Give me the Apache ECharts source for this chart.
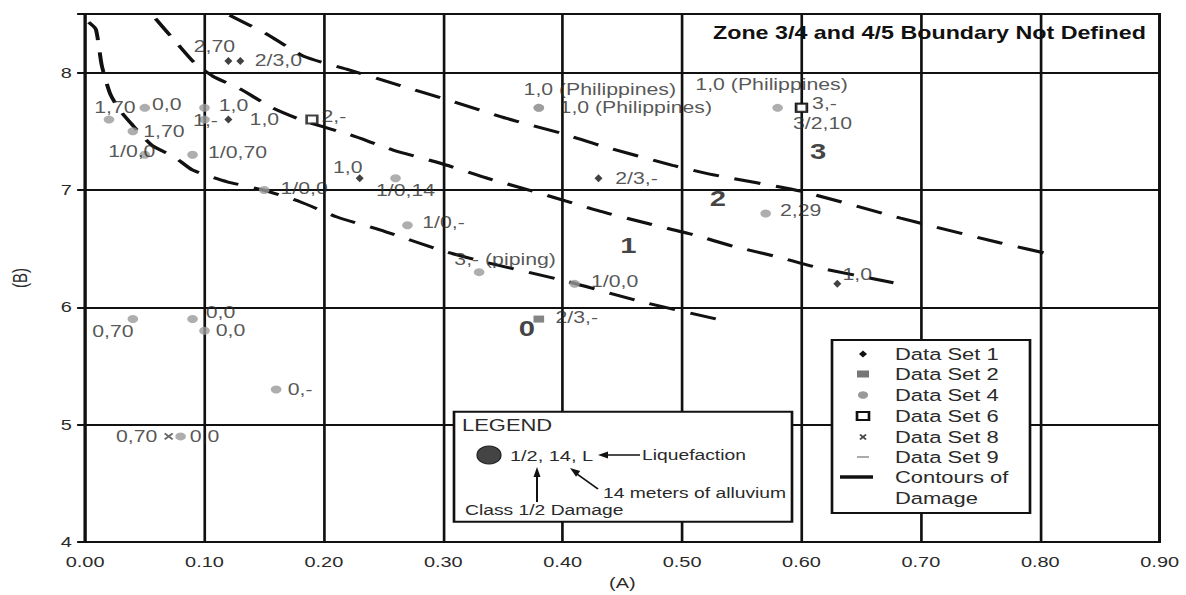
<!DOCTYPE html>
<html>
<head>
<meta charset="utf-8">
<script src="https://cdn.jsdelivr.net/npm/echarts@6/dist/echarts.min.js"></script>
<style>
  html, body { margin: 0; padding: 0; background: #fff; overflow: hidden; }
  #wrap { width: 1186px; height: 595px; overflow: hidden; }
  /* the figure is drawn narrow and stretched sideways */
  #chart { width: 892px; height: 595px; transform: scaleX(1.32960); transform-origin: 0 0; }
</style>
</head>
<body>
<div id="wrap"><div id="chart"></div></div>
<script>
// ---------------- data ----------------
const xTicks = [0, 0.1, 0.2, 0.3, 0.4, 0.5, 0.6, 0.7, 0.8, 0.9];
const yTicks = [4, 5, 6, 7, 8];

// Data Set 1
const set1X = [0.12, 0.13, 0.12, 0.23, 0.43, 0.63];
const set1Y = [8.1, 8.1, 7.6, 7.1, 7.1, 6.2];
const set1Text = ['2,70', '2/3,0', '1,0', '1,0', '2/3,-', '1,0'];

// Data Set 2
const set2X = [0.38];
const set2Y = [5.9];
const set2Text = ['2/3,-'];

// Data Set 4
const set4X = [0.02, 0.05, 0.04, 0.05, 0.10, 0.10, 0.09, 0.15, 0.26, 0.27, 0.33, 0.41,
               0.38, 0.38, 0.58, 0.57, 0.04, 0.09, 0.10, 0.16, 0.08];
const set4Y = [7.6, 7.7, 7.5, 7.3, 7.7, 7.6, 7.3, 7.0, 7.1, 6.7, 6.3, 6.2,
               7.7, 7.7, 7.7, 6.8, 5.9, 5.9, 5.8, 5.3, 4.9];
const set4Text = ['1,70', '0,0', '1,70', '1/0,0', '1,0', '1,-', '1/0,70', '1/0,0', '1/0,14', '1/0,-',
                  '3,- (piping)', '1/0,0', '1,0 (Philippines)', '1,0 (Philippines)', '1,0 (Philippines)',
                  '2,29', '0,70', '0,0', '0,0', '0,-', '0,0'];

// Data Set 6
const set6X = [0.19, 0.60, 0.60];
const set6Y = [7.6, 7.7, 7.7];
const set6Text = ['2,-', '3,-', '3/2,10'];

// Data Set 8
const set8X = [0.07];
const set8Y = [4.9];
const set8Text = ['0,70'];

// Contours of damage (zone boundaries)
const contour01X = [0.003, 0.009, 0.014, 0.021, 0.029, 0.040, 0.056, 0.075, 0.090, 0.119, 0.149,
                    0.180, 0.211, 0.247, 0.300, 0.333, 0.404, 0.465, 0.529];
const contour01Y = [8.43, 8.37, 8.06, 7.82, 7.68, 7.55, 7.38, 7.28, 7.17, 7.07, 7.00,
                    6.90, 6.77, 6.66, 6.48, 6.39, 6.22, 6.05, 5.90];
const contour12X = [0.059, 0.077, 0.092, 0.107, 0.130, 0.157, 0.183, 0.222, 0.258, 0.297, 0.337,
                    0.375, 0.431, 0.473, 0.509, 0.543, 0.580, 0.613, 0.677];
const contour12Y = [8.46, 8.25, 8.08, 7.97, 7.86, 7.70, 7.59, 7.47, 7.34, 7.23, 7.10,
                    6.99, 6.82, 6.71, 6.62, 6.52, 6.43, 6.34, 6.21];
const contour23X = [0.121, 0.152, 0.183, 0.219, 0.264, 0.306, 0.353, 0.400, 0.431, 0.492, 0.526,
                    0.599, 0.683, 0.766, 0.814];
const contour23Y = [8.49, 8.33, 8.14, 8.03, 7.89, 7.76, 7.61, 7.48, 7.38, 7.21, 7.13,
                    6.99, 6.76, 6.55, 6.44];

// Zone numbers
const zoneX = [0.37, 0.455, 0.53, 0.614];
const zoneY = [5.82, 6.53, 6.93, 7.33];
const zoneText = ['0', '1', '2', '3'];

// ---------------- drawing ----------------
const SX = 1186 / 892;            // sideways stretch of the canvas
const px = v => v / SX;           // screen x -> drawing x
const FONT = '"Liberation Sans", Arial, sans-serif';

// label placement relative to each mark (screen px)
const place1 = [[-14, -14], [38, 0], [36, 0], [-12, -11], [38, 0], [20, -9]];
const place2 = [[38, -2]];
const place4 = [[6, -12], [22, -3], [31, 0], [-13, -3], [29, -2], [1, 1], [45, -2], [40, -2],
                [10, 12], [36, -3], [26, -13], [40, -2], [61, -18], [97, 0], [-6, -23], [35, -3],
                [-20, 12], [28, -7], [26, 0], [24, 0], [24, 0]];
const place6 = [[22, -3], [23, -4], [21, 16]];
const place8 = [[-32, 0]];

function marks(xs, ys, texts, place) {
  return xs.map((x, i) => ({
    value: [x, ys[i]],
    label: { formatter: texts[i], offset: [px(place[i][0]), place[i][1]] }
  }));
}
function curve(xs, ys) { return xs.map((x, i) => [x, ys[i]]); }

const pointLabel = { show: true, position: 'inside', color: '#2a2a2a', fontSize: 16, fontFamily: FONT };
const contourStyle = { color: '#111', width: 3, type: [20, 12], cap: 'butt' };

function contourSeries(name, xs, ys) {
  return { name, type: 'line', data: curve(xs, ys), showSymbol: false, symbol: 'none',
           smooth: 0.2, lineStyle: contourStyle, z: 2, silent: true };
}

const G = [];   // legend boxes and annotations
const Z = 100;
function text(x, y, t, size, weight, color) {
  G.push({ type: 'text', x: px(x), y, z: Z,
           style: { text: t, font: (weight || 'normal') + ' ' + size + 'px ' + FONT,
                    fill: color || '#2a2a2a', align: 'left', verticalAlign: 'middle' } });
}
function line(x1, y1, x2, y2, w, color) {
  G.push({ type: 'line', z: Z, shape: { x1: px(x1), y1, x2: px(x2), y2 },
           style: { stroke: color || '#111', lineWidth: w } });
}
function poly(points, color) {
  G.push({ type: 'polygon', z: Z, shape: { points: points.map(p => [px(p[0]), p[1]]) },
           style: { fill: color || '#111' } });
}
function box(x, y, w, h) {
  G.push({ type: 'rect', z: Z, shape: { x: px(x), y, width: px(w), height: h },
           style: { fill: '#fff', stroke: '#111', lineWidth: 2 } });
}

// header note
text(713, 33, 'Zone 3/4 and 4/5 Boundary Not Defined', 17.5, 'bold', '#111');

// key to the data sets
box(832, 340, 198, 173);
poly([[859, 354], [863, 350.5], [867, 354], [863, 357.5]], '#111');
G.push({ type: 'rect', z: Z, shape: { x: px(857), y: 370.5, width: px(12), height: 7 }, style: { fill: '#777' } });
G.push({ type: 'circle', z: Z, shape: { cx: px(863), cy: 395, r: 3.8 }, style: { fill: '#999' } });
G.push({ type: 'rect', z: Z, shape: { x: px(857), y: 412, width: px(12), height: 8 },
         style: { fill: '#fff', stroke: '#111', lineWidth: 2 } });
line(860, 434.5, 866, 439.5, 1.5, '#444');
line(860, 439.5, 866, 434.5, 1.5, '#444');
line(857, 457, 869, 457, 1, '#555');
line(840, 477, 873, 477, 3.5, '#111');
text(895, 354, 'Data Set 1', 16.5);
text(895, 374, 'Data Set 2', 16.5);
text(895, 395, 'Data Set 4', 16.5);
text(895, 416, 'Data Set 6', 16.5);
text(895, 437, 'Data Set 8', 16.5);
text(895, 457, 'Data Set 9', 16.5);
text(895, 477, 'Contours of', 16.5);
text(895, 498, 'Damage', 16.5);

// how a point label reads
box(454, 411.7, 338, 110);
text(462, 425, 'LEGEND', 16.5);
G.push({ type: 'circle', z: Z, shape: { cx: px(489), cy: 455, r: 9 },
         style: { fill: '#444', stroke: '#222', lineWidth: 1 } });
text(510, 456, '1/2, 14, L', 15);
line(640, 455, 605, 455, 1.5);
poly([[598, 455], [608, 451.5], [608, 458.5]]);
text(642, 455, 'Liquefaction', 14.5);
line(537, 502, 537, 474, 1.5);
poly([[537, 467], [533.5, 477], [540.5, 477]]);
text(465, 510, 'Class 1/2 Damage', 14.5);
line(598, 489, 577, 474, 1.5);
poly([[570, 468], [580.2, 471.0], [576.1, 476.7]]);
text(603, 493, '14 meters of alluvium', 14.5);

const chart = echarts.init(document.getElementById('chart'), null,
                           { renderer: 'svg', width: 892, height: 595 });

chart.setOption({
  animation: false,
  backgroundColor: '#fff',
  grid: { left: 64, right: 19.8, top: 14, bottom: 50, show: true,
          borderColor: '#111', borderWidth: 2, backgroundColor: 'transparent' },
  xAxis: {
    type: 'value', min: xTicks[0], max: xTicks[xTicks.length - 1], interval: 0.1,
    name: '(A)', nameLocation: 'middle', nameGap: 33,
    nameTextStyle: { fontSize: 15, color: '#2a2a2a', fontFamily: FONT },
    axisLine: { show: true, lineStyle: { color: '#111', width: 2 } },
    axisTick: { show: false },
    axisLabel: { fontSize: 15, color: '#2a2a2a', fontFamily: FONT, margin: 12,
                 formatter: v => v.toFixed(2) },
    splitLine: { show: true, lineStyle: { color: '#111', width: 2 } }
  },
  yAxis: {
    type: 'value', min: yTicks[0], max: 8.5, interval: 1,
    name: '(B)', nameLocation: 'middle', nameGap: 41,
    nameTextStyle: { fontSize: 15, color: '#2a2a2a', fontFamily: FONT },
    axisLine: { show: true, lineStyle: { color: '#111', width: 2 } },
    axisTick: { show: true, length: 6, lineStyle: { color: '#111', width: 2 } },
    axisLabel: { fontSize: 15, color: '#2a2a2a', fontFamily: FONT, margin: 10,
                 formatter: v => (yTicks.includes(v) ? String(v) : '') },
    splitLine: { show: true, lineStyle: { color: '#111', width: 2 } }
  },
  graphic: { elements: G },
  series: [
    contourSeries('Contour 0/1', contour01X, contour01Y),
    contourSeries('Contour 1/2', contour12X, contour12Y),
    contourSeries('Contour 2/3', contour23X, contour23Y),
    { name: 'Data Set 4', type: 'scatter', z: 3, symbol: 'circle', symbolSize: 8,
      itemStyle: { color: '#9a9a9a' }, label: pointLabel,
      data: marks(set4X, set4Y, set4Text, place4) },
    { name: 'Data Set 1', type: 'scatter', z: 4, symbol: 'diamond', symbolSize: [6, 8],
      itemStyle: { color: '#111' }, label: pointLabel,
      data: marks(set1X, set1Y, set1Text, place1) },
    { name: 'Data Set 2', type: 'scatter', z: 4, symbol: 'rect', symbolSize: [8, 7],
      itemStyle: { color: '#666' }, label: pointLabel,
      data: marks(set2X, set2Y, set2Text, place2) },
    { name: 'Data Set 6', type: 'scatter', z: 4, symbol: 'rect', symbolSize: [8, 8],
      itemStyle: { color: '#fff', borderColor: '#111', borderWidth: 2 }, label: pointLabel,
      data: marks(set6X, set6Y, set6Text, place6) },
    { name: 'Data Set 8', type: 'scatter', z: 4, symbol: 'path://M0,0L10,10M10,0L0,10', symbolSize: [6, 6],
      itemStyle: { color: 'none', borderColor: '#444', borderWidth: 1.5 }, label: pointLabel,
      data: marks(set8X, set8Y, set8Text, place8) },
    { name: 'Zones', type: 'scatter', z: 5, symbolSize: 1, silent: true,
      itemStyle: { color: 'rgba(0,0,0,0)' },
      label: { show: true, position: 'inside', color: '#111', fontSize: 22, fontWeight: 'bold', fontFamily: FONT },
      data: zoneX.map((x, i) => ({ value: [x, zoneY[i]], label: { formatter: zoneText[i] } })) }
  ]
});
</script>
</body>
</html>
